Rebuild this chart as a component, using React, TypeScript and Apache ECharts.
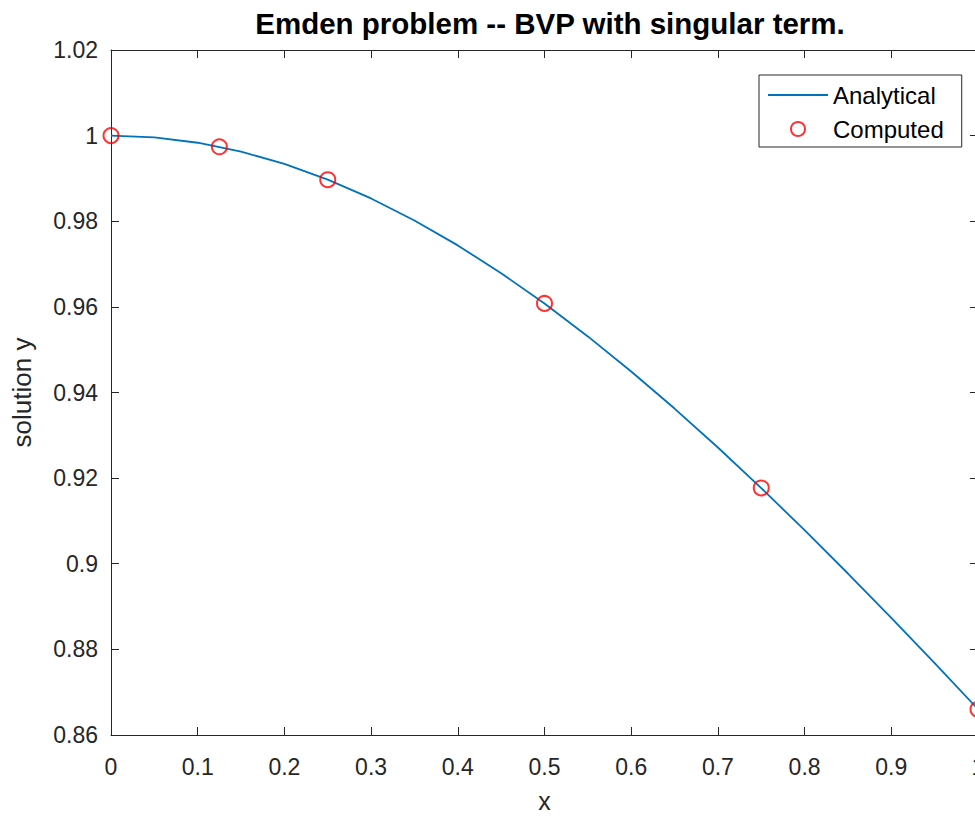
import React, { useEffect, useRef } from "react";
import * as echarts from "echarts";

const titleText = "Emden problem -- BVP with singular term.";
const xName = "x";
const yName = "solution y";
const legendNames = ["Analytical", "Computed"];

// Analytical curve
const analyticalX = [0, 0.05, 0.1, 0.15, 0.2, 0.25, 0.3, 0.35, 0.4, 0.45, 0.5, 0.55, 0.6, 0.65, 0.7, 0.75, 0.8, 0.85, 0.9, 0.95, 1.0];
const analyticalY = [1.0, 0.99958, 0.99834, 0.99627, 0.9934, 0.98974, 0.98533, 0.98019, 0.97436, 0.96787, 0.96077, 0.9531, 0.94491, 0.93625, 0.92715, 0.91766, 0.90784, 0.89772, 0.88736, 0.87678, 0.86603];

// Computed points (red circles)
const computedX = [0, 0.125, 0.25, 0.5, 0.75, 1.0];
const computedY = [1.0, 0.9974, 0.9897, 0.9608, 0.9177, 0.866];

const FONT = "'Liberation Sans', Arial, Helvetica, sans-serif";
const AXIS = "#262626";

export default function App() {
  const ref = useRef<HTMLDivElement>(null);
  useEffect(() => {
    if (!ref.current) return;
    const chart = echarts.init(ref.current, undefined, { renderer: "svg" });
    const lineData = analyticalX.map((x, i) => [x, analyticalY[i]]);
    const ptData = computedX.map((x, i) => [x, computedY[i]]);
    const xCommon = {
      type: "value" as const,
      min: 0,
      max: 1,
      interval: 0.1,
      splitLine: { show: false },
      axisLine: { show: true, onZero: false, lineStyle: { color: AXIS, width: 1 } },
      axisTick: { show: true, inside: true, length: 8, lineStyle: { color: AXIS, width: 1 } },
    };
    const yCommon = {
      type: "value" as const,
      min: 0.86,
      max: 1.02,
      interval: 0.02,
      splitLine: { show: false },
      axisLine: { show: true, onZero: false, lineStyle: { color: AXIS, width: 1 } },
      axisTick: { show: true, inside: true, length: 8, lineStyle: { color: AXIS, width: 1 } },
    };
    chart.setOption({
      animation: false,
      backgroundColor: "#ffffff",
      textStyle: { fontFamily: FONT },
      title: {
        text: titleText,
        left: 545,
        top: 3,
        textAlign: "center",
        textStyle: { fontFamily: FONT, fontSize: 29.5, fontWeight: "bold", color: "#000000" },
      },
      grid: { left: 111, right: 12, top: 50, bottom: 81, containLabel: false, outerBoundsMode: "none" },
      legend: {
        orient: "vertical",
        left: 759,
        top: 75,
        padding: [8, 18, 6, 9],
        itemGap: 10,
        itemWidth: 60,
        itemHeight: 14,
        borderColor: AXIS,
        borderWidth: 1,
        backgroundColor: "#ffffff",
        textStyle: { fontFamily: FONT, fontSize: 24, color: "#000000" },
        data: [
          { name: legendNames[0], icon: "path://M0,0L60,0L60,2L0,2Z" },
          { name: legendNames[1] },
        ],
      },
      xAxis: [
        {
          ...xCommon,
          position: "bottom",
          name: xName,
          nameLocation: "middle",
          nameGap: 53,
          nameTextStyle: { fontFamily: FONT, fontSize: 25, color: AXIS },
          axisLabel: { show: true, margin: 20, fontFamily: FONT, fontSize: 23, color: AXIS },
        },
        { ...xCommon, position: "top", axisLabel: { show: false } },
      ],
      yAxis: [
        {
          ...yCommon,
          position: "left",
          name: yName,
          nameLocation: "middle",
          nameGap: 76,
          nameTextStyle: { fontFamily: FONT, fontSize: 26, color: AXIS },
          axisLabel: { show: true, margin: 13, fontFamily: FONT, fontSize: 23, color: AXIS, padding: [6, 0, 0, 0] },
        },
        { ...yCommon, position: "right", axisLabel: { show: false } },
      ],
      series: [
        {
          name: legendNames[0],
          type: "line",
          xAxisIndex: 0,
          yAxisIndex: 0,
          data: lineData,
          symbol: "none",
          smooth: false,
          clip: false,
          lineStyle: { color: "#0072BD", width: 1.8 },
          itemStyle: { color: "#0072BD" },
        },
        {
          name: legendNames[1],
          type: "scatter",
          xAxisIndex: 0,
          yAxisIndex: 0,
          data: ptData,
          symbol: "circle",
          symbolSize: 15,
          clip: false,
          itemStyle: { color: "transparent", borderColor: "#FF0000", borderWidth: 2 },
          z: 3,
        },
      ],
    });
    return () => chart.dispose();
  }, []);
  return (
    <div style={{ position: "fixed", left: 0, top: 0, width: 975, height: 816, overflow: "hidden", background: "#fff" }}>
      <div ref={ref} style={{ width: 990, height: 816 }} />
    </div>
  );
}
